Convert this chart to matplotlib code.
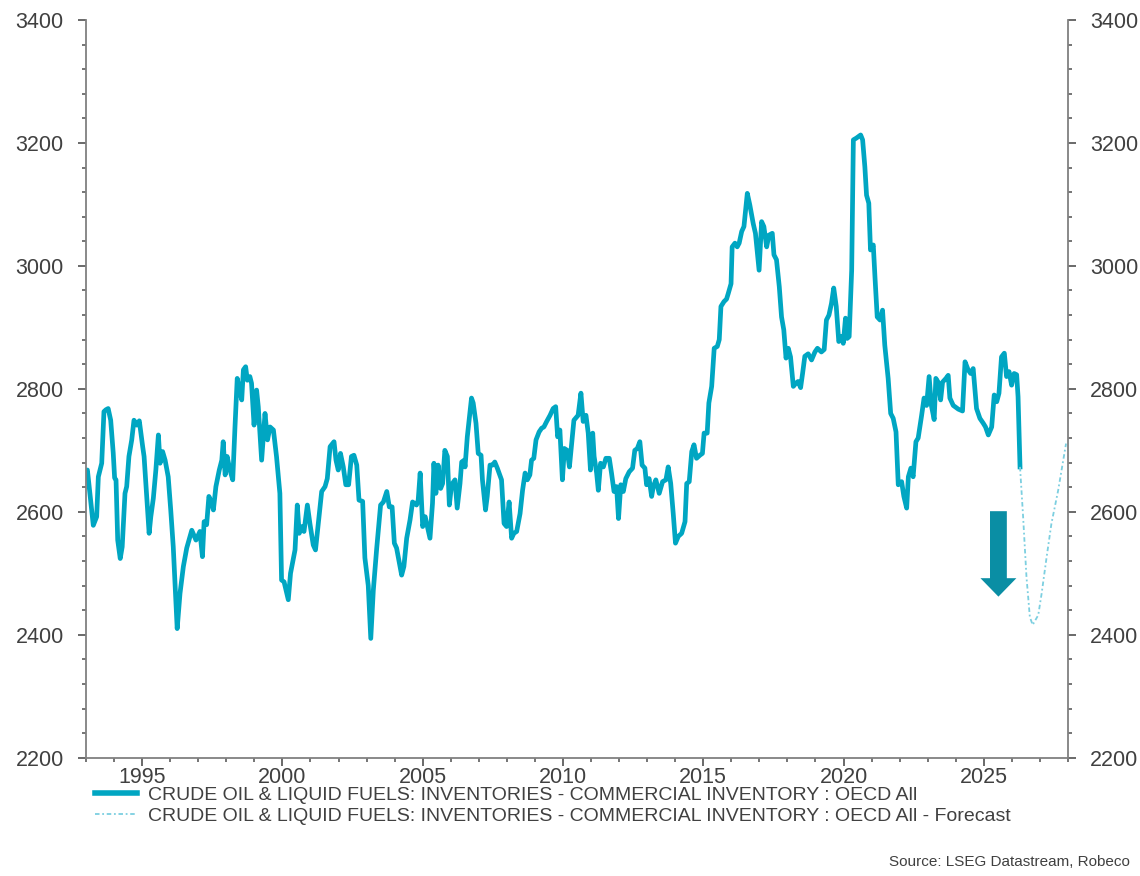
import matplotlib
matplotlib.use("Agg")
import matplotlib.pyplot as plt
from matplotlib.patches import FancyArrow
from matplotlib.ticker import MultipleLocator
from matplotlib.lines import Line2D

plt.rcParams['font.family'] = ['Liberation Sans', 'DejaVu Sans']

# OECD commercial inventory, decimal years
hist_year = [
    1993.00, 1993.05, 1993.26, 1993.38, 1993.44, 1993.56, 1993.64, 1993.71, 1993.79, 1993.88,
    1993.97, 1994.02, 1994.07, 1994.13, 1994.22, 1994.29, 1994.39, 1994.45, 1994.53, 1994.63,
    1994.71, 1994.81, 1994.90, 1995.02, 1995.07, 1995.14, 1995.25, 1995.31, 1995.40, 1995.49,
    1995.58, 1995.64, 1995.73, 1995.82, 1995.93, 1996.02, 1996.11, 1996.25, 1996.35, 1996.47,
    1996.59, 1996.77, 1996.92, 1997.06, 1997.15, 1997.21, 1997.30, 1997.38, 1997.44, 1997.54,
    1997.63, 1997.75, 1997.84, 1997.89, 1997.96, 1998.03, 1998.13, 1998.23, 1998.31, 1998.39,
    1998.46, 1998.55, 1998.61, 1998.69, 1998.75, 1998.84, 1998.90, 1998.99, 1999.08, 1999.14,
    1999.26, 1999.38, 1999.47, 1999.56, 1999.68, 1999.79, 1999.91, 1999.97, 2000.06, 2000.21,
    2000.29, 2000.45, 2000.53, 2000.60, 2000.69, 2000.77, 2000.89, 2000.98, 2001.10, 2001.18,
    2001.28, 2001.40, 2001.52, 2001.60, 2001.70, 2001.84, 2001.91, 2001.99, 2002.07, 2002.17,
    2002.26, 2002.36, 2002.46, 2002.55, 2002.65, 2002.73, 2002.86, 2002.94, 2003.06, 2003.15,
    2003.24, 2003.36, 2003.50, 2003.60, 2003.72, 2003.81, 2003.91, 2003.99, 2004.07, 2004.17,
    2004.25, 2004.33, 2004.43, 2004.55, 2004.64, 2004.78, 2004.84, 2004.91, 2005.00, 2005.09,
    2005.26, 2005.35, 2005.40, 2005.47, 2005.55, 2005.64, 2005.71, 2005.79, 2005.88, 2005.95,
    2006.03, 2006.15, 2006.23, 2006.33, 2006.39, 2006.48, 2006.51, 2006.59, 2006.74, 2006.80,
    2006.90, 2006.98, 2007.08, 2007.13, 2007.24, 2007.30, 2007.40, 2007.49, 2007.57, 2007.66,
    2007.81, 2007.90, 2007.99, 2008.08, 2008.17, 2008.25, 2008.35, 2008.47, 2008.56, 2008.65,
    2008.73, 2008.82, 2008.88, 2008.96, 2009.04, 2009.15, 2009.24, 2009.32, 2009.42, 2009.54,
    2009.65, 2009.74, 2009.81, 2009.89, 2009.98, 2010.05, 2010.15, 2010.23, 2010.31, 2010.39,
    2010.54, 2010.64, 2010.72, 2010.82, 2010.90, 2010.98, 2011.06, 2011.11, 2011.20, 2011.26,
    2011.34, 2011.44, 2011.53, 2011.65, 2011.73, 2011.82, 2011.91, 2011.98, 2012.06, 2012.15,
    2012.24, 2012.36, 2012.48, 2012.56, 2012.65, 2012.74, 2012.82, 2012.92, 2012.98, 2013.07,
    2013.16, 2013.22, 2013.31, 2013.43, 2013.55, 2013.67, 2013.75, 2013.84, 2013.93, 2014.01,
    2014.11, 2014.23, 2014.35, 2014.41, 2014.50, 2014.59, 2014.67, 2014.76, 2014.88, 2014.97,
    2015.03, 2015.14, 2015.20, 2015.30, 2015.39, 2015.50, 2015.57, 2015.63, 2015.74, 2015.83,
    2015.89, 2015.99, 2016.03, 2016.13, 2016.21, 2016.28, 2016.37, 2016.45, 2016.57, 2016.66,
    2016.78, 2016.86, 2016.99, 2017.08, 2017.16, 2017.26, 2017.34, 2017.46, 2017.52, 2017.61,
    2017.71, 2017.79, 2017.87, 2017.95, 2018.03, 2018.11, 2018.21, 2018.30, 2018.38, 2018.47,
    2018.54, 2018.62, 2018.74, 2018.86, 2018.98, 2019.07, 2019.21, 2019.31, 2019.39, 2019.48,
    2019.57, 2019.65, 2019.74, 2019.83, 2019.93, 2019.99, 2020.07, 2020.13, 2020.20, 2020.29,
    2020.35, 2020.46, 2020.61, 2020.68, 2020.76, 2020.82, 2020.90, 2020.96, 2021.06, 2021.12,
    2021.20, 2021.30, 2021.39, 2021.47, 2021.59, 2021.68, 2021.77, 2021.87, 2021.95, 2022.07,
    2022.15, 2022.25, 2022.31, 2022.40, 2022.48, 2022.58, 2022.66, 2022.78, 2022.87, 2022.96,
    2023.05, 2023.13, 2023.23, 2023.29, 2023.37, 2023.46, 2023.53, 2023.65, 2023.73, 2023.79,
    2023.91, 2024.09, 2024.24, 2024.33, 2024.44, 2024.53, 2024.62, 2024.74, 2024.86, 2024.98,
    2025.06, 2025.16, 2025.28, 2025.37, 2025.46, 2025.54, 2025.63, 2025.73, 2025.81, 2025.90,
    2025.99, 2026.08, 2026.17, 2026.22, 2026.29,
]
hist_value = [
    2665, 2668, 2578, 2592, 2657, 2679, 2763, 2766, 2768, 2749,
    2696, 2655, 2652, 2554, 2524, 2543, 2630, 2641, 2690, 2717,
    2749, 2741, 2748, 2706, 2690, 2641, 2565, 2592, 2622, 2668,
    2725, 2679, 2698, 2684, 2657, 2603, 2543, 2410, 2467, 2511,
    2541, 2570, 2554, 2568, 2527, 2584, 2579, 2625, 2619, 2603,
    2641, 2668, 2684, 2714, 2660, 2690, 2668, 2652, 2738, 2817,
    2801, 2782, 2831, 2836, 2814, 2820, 2809, 2741, 2798, 2771,
    2684, 2760, 2717, 2738, 2733, 2690, 2630, 2489, 2486, 2457,
    2500, 2538, 2611, 2565, 2576, 2568, 2611, 2581, 2546, 2538,
    2581, 2633, 2641, 2654, 2706, 2714, 2684, 2668, 2695, 2673,
    2644, 2644, 2690, 2692, 2676, 2619, 2617, 2525, 2480, 2394,
    2472, 2540, 2611, 2616, 2633, 2608, 2608, 2549, 2541, 2516,
    2497, 2511, 2557, 2587, 2616, 2611, 2619, 2663, 2576, 2592,
    2557, 2614, 2679, 2630, 2676, 2638, 2646, 2700, 2690, 2611,
    2644, 2652, 2606, 2646, 2681, 2684, 2673, 2722, 2785, 2777,
    2744, 2695, 2692, 2652, 2603, 2625, 2676, 2676, 2681, 2671,
    2652, 2581, 2576, 2616, 2557, 2565, 2568, 2597, 2635, 2663,
    2652, 2660, 2684, 2687, 2717, 2730, 2736, 2738, 2747, 2757,
    2768, 2771, 2722, 2733, 2652, 2703, 2700, 2673, 2711, 2749,
    2757, 2793, 2747, 2757, 2728, 2668, 2728, 2690, 2663, 2635,
    2679, 2673, 2687, 2687, 2663, 2633, 2641, 2589, 2644, 2633,
    2654, 2665, 2671, 2700, 2703, 2714, 2676, 2671, 2644, 2654,
    2625, 2641, 2652, 2630, 2649, 2652, 2673, 2646, 2597, 2549,
    2560, 2565, 2584, 2646, 2649, 2698, 2709, 2687, 2692, 2695,
    2728, 2728, 2777, 2804, 2866, 2869, 2880, 2934, 2942, 2946,
    2955, 2971, 3031, 3037, 3031, 3037, 3056, 3064, 3118, 3099,
    3069, 3053, 2993, 3072, 3064, 3031, 3050, 3053, 3018, 3010,
    2966, 2917, 2896, 2850, 2866, 2852, 2804, 2809, 2812, 2802,
    2825, 2853, 2857, 2847, 2860, 2866, 2860, 2864, 2912, 2920,
    2939, 2964, 2934, 2877, 2885, 2874, 2915, 2882, 2885, 2993,
    3205, 3208, 3213, 3205, 3161, 3115, 3102, 3026, 3034, 2982,
    2917, 2912, 2928, 2871, 2817, 2760, 2752, 2730, 2644, 2649,
    2625, 2606, 2657, 2671, 2657, 2714, 2720, 2756, 2785, 2773,
    2820, 2773, 2750, 2817, 2811, 2782, 2811, 2817, 2822, 2785,
    2773, 2767, 2764, 2844, 2831, 2825, 2833, 2768, 2752, 2744,
    2738, 2725, 2738, 2790, 2779, 2793, 2852, 2858, 2820, 2828,
    2806, 2825, 2823, 2787, 2673,
]

fcst_year = [2026.29, 2026.40, 2026.52, 2026.64, 2026.74, 2026.94, 2027.06, 2027.24, 2027.41, 2027.65, 2027.93]
fcst_value = [2673, 2592, 2494, 2429, 2416, 2432, 2467, 2527, 2581, 2635, 2711]

label_hist = "CRUDE OIL & LIQUID FUELS: INVENTORIES - COMMERCIAL INVENTORY : OECD All"
label_fcst = "CRUDE OIL & LIQUID FUELS: INVENTORIES - COMMERCIAL INVENTORY : OECD All - Forecast"
source = "Source: LSEG Datastream, Robeco"

line_col = '#00a6c2'
fcst_col = '#7ccfe0'
txt_col = '#404040'
axis_col = '#808080'
fcst_style = (0, (2.5, 1.5, 1, 1.5))

fig = plt.figure(figsize=(11.4, 8.76), dpi=100)
ax = fig.add_axes([86 / 1140, 1 - 757.7 / 876, (1068 - 86) / 1140, (757.7 - 20) / 876])

ax.plot(hist_year, hist_value, color=line_col, lw=3.4, solid_joinstyle='round')
ax.plot(fcst_year, fcst_value, color=fcst_col, lw=1.3, linestyle=fcst_style)

# down arrow annotation
ax.add_patch(FancyArrow(2025.52, 2601, 0, -139, width=0.6, head_width=1.28, head_length=30,
                        length_includes_head=True, color='#0a8ea4', lw=0))

ax.set_xlim(1993, 2028)
ax.set_ylim(2200, 3400)

ax.xaxis.set_major_locator(MultipleLocator(5))
ax.xaxis.set_minor_locator(MultipleLocator(1))
ax.yaxis.set_major_locator(MultipleLocator(200))
ax.yaxis.set_minor_locator(MultipleLocator(40))

ax.spines['top'].set_visible(False)
for s in ['left', 'right', 'bottom']:
    ax.spines[s].set_color(axis_col)
    ax.spines[s].set_linewidth(1.3)

ax.tick_params(axis='y', which='both', left=True, right=True, labelleft=True, labelright=True,
               direction='out', colors='#505050', labelcolor=txt_col, labelsize=15.5)
ax.tick_params(axis='y', which='major', length=5.5, width=1.2, pad=10.5)
ax.tick_params(axis='y', which='minor', length=3, width=1.1)
ax.tick_params(axis='x', which='both', direction='out', colors='#505050', labelcolor=txt_col, labelsize=15.5)
ax.tick_params(axis='x', which='major', length=5.5, width=1.2, pad=1.5)
ax.tick_params(axis='x', which='minor', length=3, width=1.1)

handles = [Line2D([], [], color=line_col, lw=4),
           Line2D([], [], color=fcst_col, lw=1.3, linestyle=fcst_style)]
fig.legend(handles, [label_hist, label_fcst], loc='upper left',
           bbox_to_anchor=(95 / 1140, 1 - 786 / 876), frameon=False, fontsize=14,
           labelcolor=txt_col, handlelength=2.15, handletextpad=0.55, labelspacing=0.18,
           borderpad=0, borderaxespad=0)

fig.text(1130 / 1140, 1 - 862 / 876, source, ha='right', va='center', fontsize=11, color=txt_col)

fig.savefig('out.png', dpi=100, facecolor='white')
